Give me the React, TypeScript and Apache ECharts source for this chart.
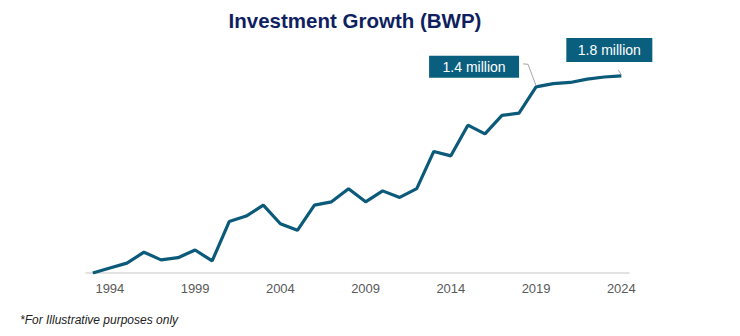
import React, { useEffect, useRef } from "react";
import * as echarts from "echarts";

const years = [1993, 1994, 1995, 1996, 1997, 1998, 1999, 2000, 2001, 2002, 2003, 2004, 2005, 2006, 2007, 2008, 2009, 2010, 2011, 2012, 2013, 2014, 2015, 2016, 2017, 2018, 2019, 2020, 2021, 2022, 2023, 2024];
const investment = [0, 0.045, 0.09, 0.19, 0.12, 0.14, 0.21, 0.11, 0.47, 0.52, 0.62, 0.45, 0.39, 0.62, 0.65, 0.77, 0.65, 0.75, 0.69, 0.77, 1.11, 1.07, 1.35, 1.27, 1.44, 1.46, 1.70, 1.73, 1.74, 1.77, 1.79, 1.80];
const tickYears = [1994, 1999, 2004, 2009, 2014, 2019, 2024];
const callouts = [
  { year: 2019, text: "1.4 million" },
  { year: 2024, text: "1.8 million" },
];

const LINE = "#0b5a7a";
const BOX = "#0b5f7e";

export default function App() {
  const ref = useRef<HTMLDivElement>(null);
  useEffect(() => {
    document.body.style.margin = "0";
    if (!ref.current) return;
    const chart = echarts.init(ref.current, null, { renderer: "svg" });
    const footnote = {
      type: "text",
      left: 20,
      top: 314,
      style: {
        text: "*For Illustrative purposes only",
        font: "italic 12px 'Liberation Sans', Arial",
        fill: "#222",
      },
    };
    chart.setOption({
      animation: false,
      title: {
        text: "Investment Growth (BWP)",
        left: 350,
        top: 5,
        textAlign: "center",
        textStyle: { fontFamily: "Liberation Sans, Arial", fontSize: 20.5, fontWeight: "bold", color: "#0f1f5f" },
      },
      grid: { left: 86, right: 111, top: 54, bottom: 63 },
      xAxis: {
        type: "value",
        min: 1992.6,
        max: 2024.45,
        splitLine: { show: false },
        axisLine: { show: true, lineStyle: { color: "#d9d9d9", width: 1.5 } },
        axisTick: { show: false },
        axisLabel: {
          customValues: tickYears,
          formatter: (v: number) => String(v),
          color: "#595959",
          fontSize: 13,
          fontFamily: "Liberation Sans, Arial",
          margin: 9,
        },
      },
      yAxis: { type: "value", min: 0, max: 2.0, show: false, splitLine: { show: false } },
      series: [
        {
          type: "line",
          data: years.map((y, i) => [y, investment[i]]),
          symbol: "none",
          lineStyle: { color: LINE, width: 3.2 },
          z: 3,
        },
      ],
      graphic: [footnote],
    });

    const p1 = chart.convertToPixel({ gridIndex: 0 }, [callouts[0].year, investment[years.indexOf(callouts[0].year)]]) as number[];
    const p2 = chart.convertToPixel({ gridIndex: 0 }, [callouts[1].year, investment[years.indexOf(callouts[1].year)]]) as number[];
    const font = "14px 'Liberation Sans', Arial";
    const extra: any[] = [
      {
        type: "polyline",
        shape: { points: [[p1[0] - 13, p1[1] - 23], [p1[0] - 8, p1[1] - 22.5], [p1[0], p1[1] - 1]] },
        style: { stroke: "#a6a6a6", lineWidth: 1, fill: "none" },
        z: 5,
      },
      {
        type: "rect",
        shape: { x: p1[0] - 107, y: p1[1] - 31, width: 90, height: 22 },
        style: { fill: BOX },
        z: 6,
      },
      {
        type: "text",
        x: p1[0] - 62,
        y: p1[1] - 20,
        style: { text: callouts[0].text, font, fill: "#fff", align: "center", verticalAlign: "middle" },
        z: 7,
      },
      {
        type: "line",
        shape: { x1: p2[0] - 3, y1: p2[1] - 6, x2: p2[0], y2: p2[1] - 1 },
        style: { stroke: "#a6a6a6", lineWidth: 1 },
        z: 5,
      },
      {
        type: "rect",
        shape: { x: p2[0] - 55, y: p2[1] - 38, width: 86, height: 24 },
        style: { fill: BOX },
        z: 6,
      },
      {
        type: "text",
        x: p2[0] - 12,
        y: p2[1] - 26,
        style: { text: callouts[1].text, font, fill: "#fff", align: "center", verticalAlign: "middle" },
        z: 7,
      },
    ];
    chart.setOption({ graphic: [footnote, ...extra] });
    return () => chart.dispose();
  }, []);
  return <div ref={ref} style={{ width: 740, height: 336 }} />;
}
